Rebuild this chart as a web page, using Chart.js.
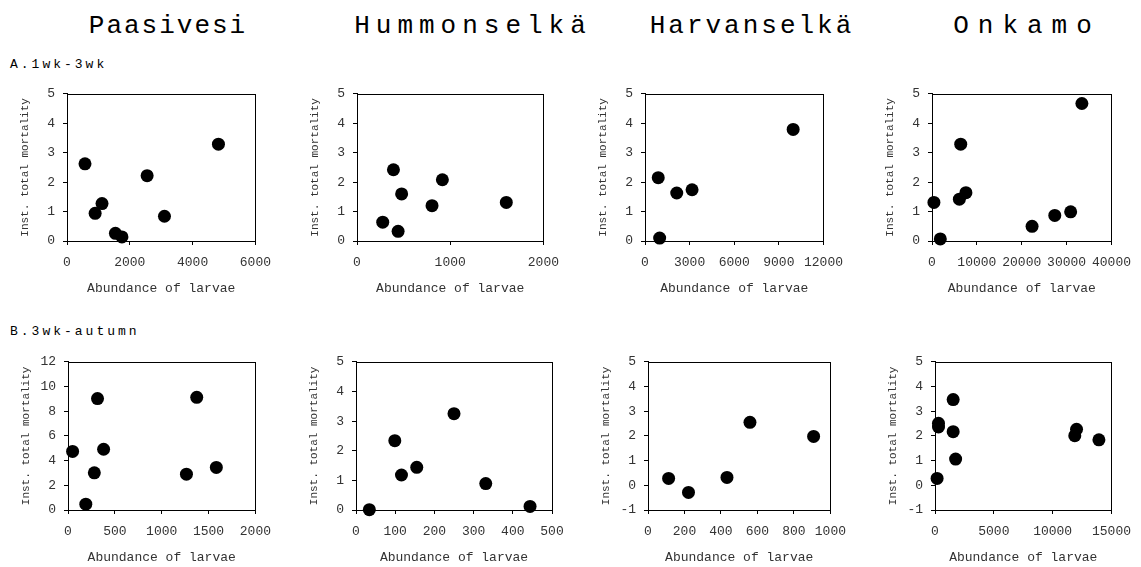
<!DOCTYPE html>
<html>
<head>
<meta charset="utf-8">
<title>Instantaneous mortality vs abundance of larvae</title>
<script src="https://cdn.jsdelivr.net/npm/chart.js@4.4.1/dist/chart.umd.min.js"></script>
<style>
    body { margin: 0; background: #fff; }
    #page {
        position: relative;
        width: 1141px;
        height: 567px;
        overflow: hidden;
        font-family: "Courier New", "Liberation Mono", monospace;
        color: #000;
    }
    .lake {
        position: absolute;
        top: 13px;
        font-size: 26px;
        line-height: 26px;
        white-space: nowrap;
        transform: translateX(-50%);
    }
    .period {
        position: absolute;
        left: 10px;
        font-size: 13px;
        line-height: 13px;
        letter-spacing: 3px;
        white-space: nowrap;
    }
    canvas { position: absolute; }
</style>
</head>
<body>
<div id="page">
    <div class="lake" style="left: 168px; letter-spacing: 2px;">Paasivesi</div>
    <div class="lake" style="left: 473px; letter-spacing: 6px;">Hummonselkä</div>
    <div class="lake" style="left: 752px; letter-spacing: 3px;">Harvanselkä</div>
    <div class="lake" style="left: 1027px; letter-spacing: 9px;">Onkamo</div>
    <div class="period" style="top: 58px;">A.1wk-3wk</div>
    <div class="period" style="top: 325px;">B.3wk-autumn</div>
</div>

<script>
// A. 1 wk - 3 wk
const paasivesiA_abundance = [573, 896, 1115, 1542, 1750, 2552, 3104, 4823];
const paasivesiA_mortality = [2.62, 0.94, 1.27, 0.26, 0.14, 2.22, 0.84, 3.29];

const hummonselkaA_abundance = [276, 391, 441, 479, 805, 916, 1602];
const hummonselkaA_mortality = [0.64, 2.42, 0.33, 1.60, 1.20, 2.08, 1.31];

const harvanselkaA_abundance = [890, 985, 2133, 3164, 9960];
const harvanselkaA_mortality = [2.15, 0.10, 1.63, 1.74, 3.79];

const onkamoA_abundance = [430, 1850, 6100, 6400, 7560, 22300, 27360, 30900, 33400];
const onkamoA_mortality = [1.31, 0.07, 1.42, 3.29, 1.64, 0.50, 0.87, 0.99, 4.67];

// B. 3 wk - autumn
const paasivesiB_abundance = [49, 190, 281, 315, 380, 1264, 1374, 1583];
const paasivesiB_mortality = [4.74, 0.47, 3.01, 9.02, 4.92, 2.90, 9.12, 3.45];

const hummonselkaB_abundance = [34, 99, 116, 155, 250, 331, 444];
const hummonselkaB_mortality = [0.01, 2.34, 1.18, 1.44, 3.25, 0.89, 0.12];

const harvanselkaB_abundance = [113, 222, 433, 559, 908];
const harvanselkaB_mortality = [0.28, -0.29, 0.32, 2.55, 1.98];

const onkamoB_abundance = [178, 297, 297, 1544, 1544, 1752, 11880, 12030, 13930];
const onkamoB_mortality = [0.28, 2.51, 2.36, 3.47, 2.17, 1.06, 2.01, 2.27, 1.84];

// axis ranges: [min, max, step]
const xRangesA = [[0, 6000, 2000], [0, 2000, 1000], [0, 12000, 3000], [0, 40000, 10000]];
const yRangesA = [[0, 5, 1], [0, 5, 1], [0, 5, 1], [0, 5, 1]];
const xRangesB = [[0, 2000, 500], [0, 500, 100], [0, 1000, 200], [0, 15000, 5000]];
const yRangesB = [[0, 12, 2], [0, 5, 1], [-1, 5, 1], [-1, 5, 1]];

const xTitle = "Abundance of larvae";
const yTitle = "Inst. total mortality";


let larvaeFigure = {};

larvaeFigure.FONT = '"Courier New", "Liberation Mono", monospace';
larvaeFigure.Y_AXIS_WIDTH = 50;
larvaeFigure.X_AXIS_HEIGHT = 55;
larvaeFigure.PAD = { left: 0, top: 10, right: 22, bottom: 2 };

// plot area of every panel in page pixels: [left, top, right, bottom]
larvaeFigure.AREAS_A = [[67, 88, 259, 241], [357, 88, 547, 241], [645, 88, 831, 241], [932, 88, 1119, 241]];
larvaeFigure.AREAS_B = [[68, 356, 259, 510], [356, 356, 552, 510], [648, 356, 834, 510], [935, 356, 1119, 510]];

// box round the plot area
larvaeFigure.frameBox = {
    id: "frameBox",
    beforeDatasetsDraw: function (chart) {
        let a = chart.chartArea;
        let ctx = chart.ctx;
        ctx.save();
        ctx.strokeStyle = "#000";
        ctx.lineWidth = 1;
        let l = Math.round(a.left) + 0.5;
        let t = Math.round(a.top) + 0.5;
        let r = Math.round(a.right) + 0.5;
        let b = Math.round(a.bottom) + 0.5;
        ctx.strokeRect(l, t, r - l, b - t);
        ctx.restore();
    },
};

larvaeFigure.axis = function (range, title, titleSize, tickPadding, fitter) {
    return {
        type: "linear",
        min: range[0],
        max: range[1],
        ticks: {
            stepSize: range[2],
            autoSkip: false,
            maxRotation: 0,
            padding: tickPadding,
            color: "#333",
            font: { family: larvaeFigure.FONT, size: 13 },
            callback: function (value) {
                return String(value);
            },
        },
        grid: {
            drawOnChartArea: false,
            drawTicks: true,
            tickLength: 4,
            color: "#000",
        },
        border: { display: true, color: "#000", width: 1 },
        title: {
            display: true,
            text: title,
            color: "#333",
            font: { family: larvaeFigure.FONT, size: titleSize },
            padding: { top: 1, bottom: 0 },
        },
        afterFit: fitter,
    };
};

larvaeFigure.createPanel = function (area, abundance, mortality, xRange, yRange) {
    let pad = larvaeFigure.PAD;
    let left = area[0] - larvaeFigure.Y_AXIS_WIDTH - pad.left;
    let top = area[1] - pad.top;
    let width = area[2] + pad.right - left;
    let height = area[3] + larvaeFigure.X_AXIS_HEIGHT + pad.bottom - top;

    let canvas = document.createElement("canvas");
    canvas.width = width;
    canvas.height = height;
    canvas.style.left = left + "px";
    canvas.style.top = top + "px";
    canvas.style.width = width + "px";
    canvas.style.height = height + "px";
    document.getElementById("page").appendChild(canvas);

    let points = [];
    for (let i = 0; i < abundance.length; i++) {
        points.push({ x: abundance[i], y: mortality[i] });
    }

    return new Chart(canvas, {
        type: "scatter",
        data: {
            datasets: [{
                data: points,
                backgroundColor: "#000",
                borderColor: "#000",
                borderWidth: 0,
                pointRadius: 6.5,
                pointHoverRadius: 6.5,
                clip: false,
            }],
        },
        options: {
            responsive: false,
            devicePixelRatio: 1,
            animation: false,
            events: [],
            layout: { padding: pad },
            scales: {
                x: larvaeFigure.axis(xRange, xTitle, 13, 10, function (scale) {
                    scale.height = larvaeFigure.X_AXIS_HEIGHT;
                }),
                y: larvaeFigure.axis(yRange, yTitle, 11, 8, function (scale) {
                    scale.width = larvaeFigure.Y_AXIS_WIDTH;
                }),
            },
            plugins: {
                legend: { display: false },
                tooltip: { enabled: false },
            },
        },
        plugins: [larvaeFigure.frameBox],
    });
};

larvaeFigure.init = function () {
    let rowA = [
        [paasivesiA_abundance, paasivesiA_mortality],
        [hummonselkaA_abundance, hummonselkaA_mortality],
        [harvanselkaA_abundance, harvanselkaA_mortality],
        [onkamoA_abundance, onkamoA_mortality],
    ];
    let rowB = [
        [paasivesiB_abundance, paasivesiB_mortality],
        [hummonselkaB_abundance, hummonselkaB_mortality],
        [harvanselkaB_abundance, harvanselkaB_mortality],
        [onkamoB_abundance, onkamoB_mortality],
    ];
    for (let i = 0; i < 4; i++) {
        larvaeFigure.createPanel(larvaeFigure.AREAS_A[i], rowA[i][0], rowA[i][1], xRangesA[i], yRangesA[i]);
        larvaeFigure.createPanel(larvaeFigure.AREAS_B[i], rowB[i][0], rowB[i][1], xRangesB[i], yRangesB[i]);
    }
};

larvaeFigure.init();
</script>
</body>
</html>
